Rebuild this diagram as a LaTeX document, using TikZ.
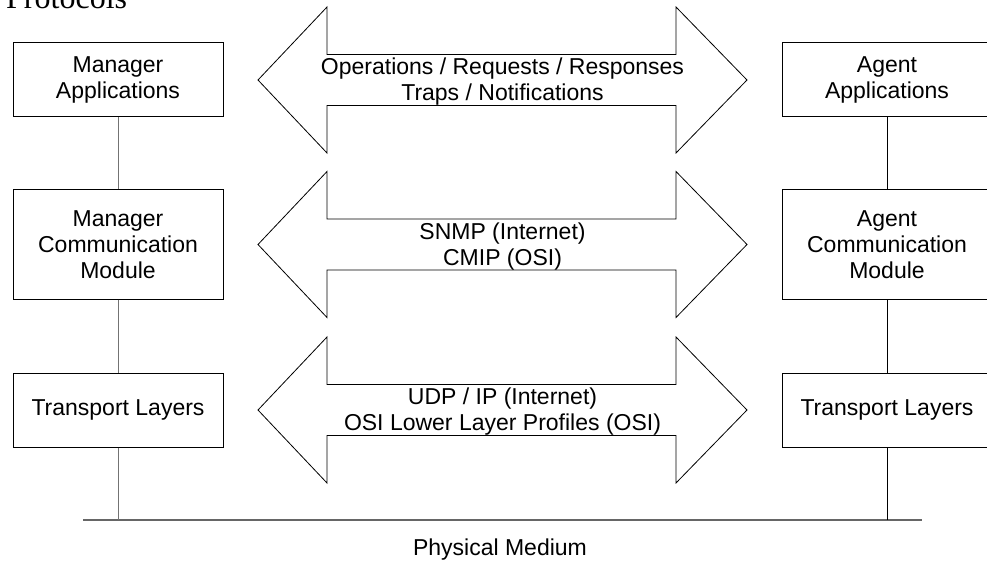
\documentclass[tikz,border=0pt]{standalone}
\usepackage{fontspec}
\setmainfont{Liberation Sans}
\newfontfamily\protofont{Liberation Serif}
\newcommand\dblarrow[1]{%
  \draw[dbl] (258,#1) -- (327,#1-73) -- (327,#1-25.5) -- (676,#1-25.5) -- (676,#1-73)
    -- (747,#1) -- (676,#1+73) -- (676,#1+25.5) -- (327,#1+25.5) -- (327,#1+73) -- cycle;}
\begin{document}
\begin{tikzpicture}[x=1pt,y=-1pt,
  box/.style={draw=black, line width=1pt, fill=white, minimum width=210pt,
    align=center, inner sep=0pt, font=\fontsize{23}{26}\selectfont},
  lbl/.style={align=center, inner sep=0pt, font=\fontsize{23}{26}\selectfont},
  linkl/.style={line width=1pt, draw=black!55},
  linkr/.style={line width=1pt, draw=black},
  medium/.style={line width=1.6pt, draw=black!60},
  dbl/.style={draw=black, line width=0.8pt, fill=white, line join=miter}]
\useasboundingbox (0,0) rectangle (987,564);

% title
\node[anchor=base west, inner sep=0pt, font=\protofont\fontsize{32}{36}\selectfont] (proto) at (6,9) {Protocols};

% double arrows
\dblarrow{80}
\dblarrow{244.5}
\dblarrow{410}
\node[lbl] (t1) at (502.5,82) {Operations / Requests / Responses\\Traps / Notifications};
\node[lbl] (t2) at (502.5,246.5) {SNMP (Internet)\\CMIP (OSI)};
\node[lbl] (t3) at (502.5,412) {UDP / IP (Internet)\\OSI Lower Layer Profiles (OSI)};

% physical medium
\coordinate (pl) at (83,520);
\coordinate (pr) at (922,520);
\coordinate (mb) at (118,520);
\coordinate (ab) at (887,520);
\draw[medium] (pl) -- (pr);
\node[lbl, anchor=base] (phys) at (500,555) {Physical Medium};

% manager side
\node[box, minimum height=74pt] (ma) at (118,80) {Manager\\Applications};
\node[box, minimum height=109pt] (mc) at (118,244.5) {Manager\\Communication\\Module};
\node[box, minimum height=74pt] (mt) at (118,410) {Transport Layers};
\draw[linkl] (ma) -- (mc);
\draw[linkl] (mc) -- (mt);
\draw[linkl] (mt) -- (mb);

% agent side
\node[box, minimum height=74pt] (aa) at (887,80) {Agent\\Applications};
\node[box, minimum height=109pt] (ac) at (887,244.5) {Agent\\Communication\\Module};
\node[box, minimum height=74pt] (at) at (887,410) {Transport Layers};
\draw[linkr] (aa) -- (ac);
\draw[linkr] (ac) -- (at);
\draw[linkr] (at) -- (ab);
\end{tikzpicture}
\end{document}
